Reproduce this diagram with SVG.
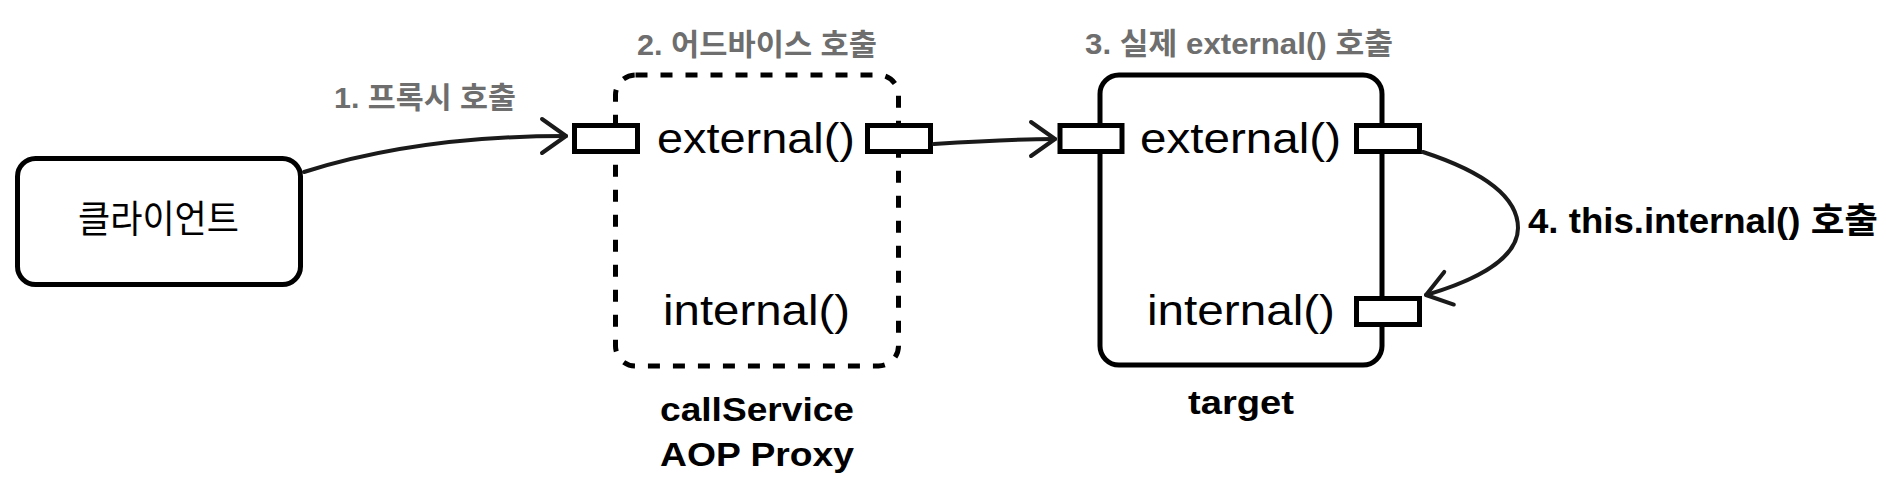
<svg xmlns="http://www.w3.org/2000/svg" width="1886" height="492" viewBox="0 0 1886 492">
  <defs>
    <style>
      .box{fill:#fff;stroke:#000;stroke-width:5}
      .dash{fill:#fff;stroke:#000;stroke-width:5;stroke-dasharray:12 13}
      .port{fill:#fff;stroke:#000;stroke-width:5}
      .conn{fill:none;stroke:#1a1a1a;stroke-width:4;stroke-linecap:round}
      .t{font-family:"Liberation Sans","Noto Sans CJK KR",sans-serif;fill:#000}
      .ko{font-family:"Noto Sans CJK KR","Liberation Sans",sans-serif;fill:#000}
      .m{font-size:42px}
      .b{font-weight:bold;font-size:34px}
      .g{font-weight:bold;font-size:30px;fill:#6e6e6e}
    </style>
    <marker id="arr" markerUnits="userSpaceOnUse" markerWidth="60" markerHeight="60" viewBox="-30 -30 60 60" refX="0" refY="0" orient="auto">
      <path d="M-24,-17 L0,0 L-24,17" fill="none" stroke="#1a1a1a" stroke-width="4" stroke-linecap="round" stroke-linejoin="round"/>
    </marker>
  </defs>
  <rect width="1886" height="492" fill="#fff"/>

  <g id="client">
    <rect class="box" x="17.5" y="158.5" width="283" height="126" rx="18"/>
    <text class="ko" x="78" y="232" font-size="38" textLength="161" lengthAdjust="spacingAndGlyphs">클라이언트</text>
  </g>

  <g id="proxy">
    <rect class="dash" x="615.5" y="75" width="283" height="291" rx="20"/>
    <rect class="port" x="574.5" y="125.5" width="63" height="26"/>
    <rect class="port" x="867.5" y="125.5" width="63" height="26"/>
    <text class="t m" x="657" y="152.5" textLength="198" lengthAdjust="spacingAndGlyphs">external()</text>
    <text class="t m" x="663" y="324.5" textLength="187" lengthAdjust="spacingAndGlyphs">internal()</text>
    <text class="t b" x="660" y="421" textLength="194" lengthAdjust="spacingAndGlyphs">callService</text>
    <text class="t b" x="660" y="466" textLength="194" lengthAdjust="spacingAndGlyphs">AOP Proxy</text>
  </g>

  <g id="target">
    <rect class="box" x="1100" y="75" width="282" height="290" rx="19"/>
    <rect class="port" x="1060" y="125.5" width="62" height="26"/>
    <rect class="port" x="1356.5" y="125.5" width="63" height="26"/>
    <rect class="port" x="1356.5" y="298.5" width="63" height="26"/>
    <text class="t m" x="1140" y="152.5" textLength="201" lengthAdjust="spacingAndGlyphs">external()</text>
    <text class="t m" x="1147" y="325" textLength="188" lengthAdjust="spacingAndGlyphs">internal()</text>
    <text class="t b" x="1188" y="414" textLength="106" lengthAdjust="spacingAndGlyphs">target</text>
  </g>

  <g id="labels">
    <text class="t g" x="334" y="108" textLength="182" lengthAdjust="spacingAndGlyphs">1. 프록시 호출</text>
    <text class="t g" x="637" y="55" textLength="240" lengthAdjust="spacingAndGlyphs">2. 어드바이스 호출</text>
    <text class="t g" x="1085" y="54" textLength="308" lengthAdjust="spacingAndGlyphs">3. 실제 external() 호출</text>
    <text class="t" x="1528" y="233" font-size="35" font-weight="bold" textLength="350" lengthAdjust="spacingAndGlyphs">4. this.internal() 호출</text>
  </g>

  <g id="connectors">
    <path class="conn" d="M304,172 C380,148 470,136 566,136" marker-end="url(#arr)"/>
    <path class="conn" d="M934,144 C980,141 1020,139 1055,139" marker-end="url(#arr)"/>
    <path class="conn" d="M1423,152 C1478,170 1518,195 1518,228 C1518,258 1477,280 1426,295" marker-end="url(#arr)"/>
  </g>
</svg>
